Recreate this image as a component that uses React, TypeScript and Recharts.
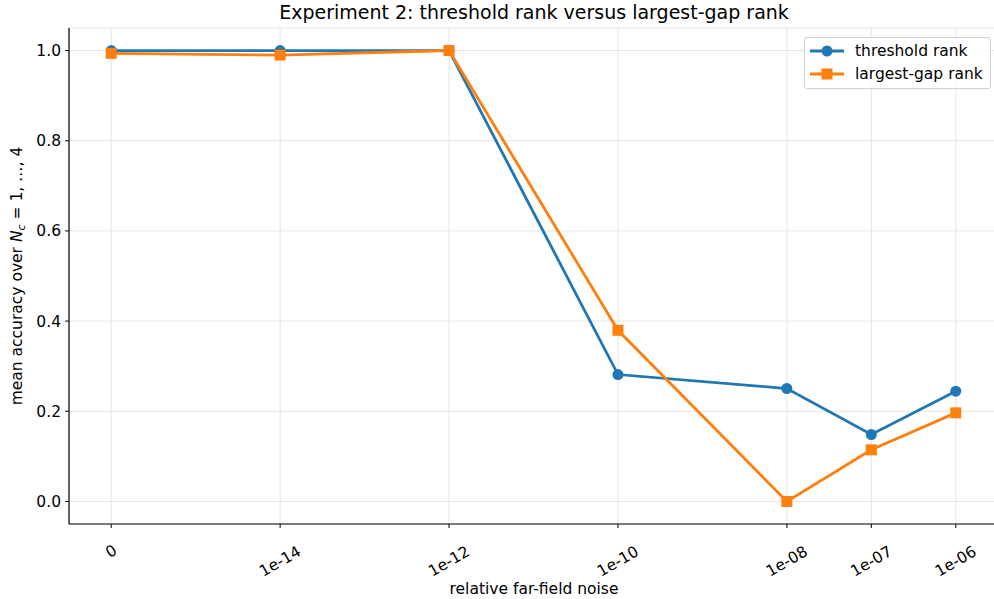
import {
  CartesianGrid,
  Line,
  LineChart,
  XAxis,
  YAxis,
} from "recharts";

// values
const noiseLevels = [0, 1e-14, 1e-12, 1e-10, 1e-8, 1e-7, 1e-6];
const noiseLabels = ["0", "1e-14", "1e-12", "1e-10", "1e-08", "1e-07", "1e-06"];
const thresholdRank = [1.0, 1.0, 1.0, 0.2815, 0.2505, 0.1485, 0.2445];
const largestGapRank = [0.99375, 0.99, 1.0, 0.3795, 0.0, 0.1145, 0.1965];
const yTicks = [0, 0.2, 0.4, 0.6, 0.8, 1.0];

const BLUE = "#1f77b4";
const ORANGE = "#ff7f0e";
const GRID = "#e5e5e5";
const FONT = "'DejaVu Sans', sans-serif";
const FS = 15.5;

// zero noise is drawn two decades left of the smallest non-zero level
function noisePosition(v: number) {
  return v === 0 ? Math.log10(noiseLevels[1]) - 2 : Math.log10(v);
}

const xPositions = noiseLevels.map(noisePosition);

const data = noiseLevels.map((v, i) => ({
  x: noisePosition(v),
  threshold: thresholdRank[i],
  largestGap: largestGapRank[i],
}));

function labelFor(pos: number) {
  const i = xPositions.findIndex((p) => Math.abs(p - pos) < 1e-9);
  return i >= 0 ? noiseLabels[i] : "";
}

function XTick(props: any) {
  const { x, y, payload } = props;
  const text = labelFor(payload.value);
  const dy = 19 + text.length * 2.5;
  return (
    <g transform={`translate(${x},${y + dy})`}>
      <text
        transform="rotate(-30)"
        textAnchor="middle"
        dominantBaseline="central"
        fontSize={FS}
        fontFamily={FONT}
        fill="#000"
      >
        {text}
      </text>
    </g>
  );
}

function Square(props: any) {
  const { cx, cy } = props;
  if (cx == null || cy == null) return null;
  return <rect x={cx - 5.5} y={cy - 5.5} width={11} height={11} fill={ORANGE} />;
}

function Dot(props: any) {
  const { cx, cy } = props;
  if (cx == null || cy == null) return null;
  return <circle cx={cx} cy={cy} r={5.5} fill={BLUE} />;
}

const legendItems = [
  { name: "threshold rank", color: BLUE, marker: "circle" },
  { name: "largest-gap rank", color: ORANGE, marker: "square" },
];

function LegendBox() {
  return (
    <div
      style={{
        position: "absolute",
        left: 804,
        top: 37,
        width: 185,
        height: 50,
        border: "1px solid #d0d0d0",
        borderRadius: 3,
        background: "rgba(255,255,255,0.8)",
        fontFamily: FONT,
        fontSize: FS,
      }}
    >
      {legendItems.map((it, i) => (
        <div
          key={it.name}
          style={{
            position: "absolute",
            left: 4,
            top: 4 + i * 23,
            height: 18,
            display: "flex",
            alignItems: "center",
          }}
        >
          <svg width={36} height={18}>
            <line x1={1} y1={9} x2={35} y2={9} stroke={it.color} strokeWidth={2.8} />
            {it.marker === "circle" ? (
              <circle cx={18} cy={9} r={5.5} fill={it.color} />
            ) : (
              <rect x={12.5} y={3.5} width={11} height={11} fill={it.color} />
            )}
          </svg>
          <span style={{ marginLeft: 10, whiteSpace: "nowrap" }}>{it.name}</span>
        </div>
      ))}
    </div>
  );
}

export default function App() {
  return (
    <div
      style={{
        position: "absolute",
        left: 0,
        top: 0,
        width: 994,
        height: 599,
        overflow: "hidden",
        background: "#fff",
      }}
    >
      <LineChart
        width={1000}
        height={599}
        data={data}
        margin={{ top: 28, right: 2, bottom: 0, left: 0 }}
      >
        <CartesianGrid stroke={GRID} strokeWidth={1} />
        <XAxis
          dataKey="x"
          type="number"
          domain={[-16.5, -5.5]}
          ticks={xPositions}
          interval={0}
          tick={<XTick />}
          tickSize={4}
          stroke="#000"
          tickLine={{ stroke: "#000" }}
          axisLine={{ stroke: "#000", strokeWidth: 1.2 }}
          height={75}
          allowDataOverflow
        />
        <XAxis
          xAxisId="top"
          orientation="top"
          dataKey="x"
          type="number"
          domain={[-16.5, -5.5]}
          tick={false}
          tickLine={false}
          axisLine={{ stroke: "#000", strokeWidth: 1.2 }}
          height={0}
        />
        <YAxis
          type="number"
          domain={[-0.05, 1.05]}
          ticks={yTicks}
          interval={0}
          tickFormatter={(v: number) => v.toFixed(1)}
          tick={{ fontSize: FS, fill: "#000", fontFamily: FONT }}
          tickSize={4}
          tickMargin={4}
          tickLine={{ stroke: "#000" }}
          axisLine={{ stroke: "#000", strokeWidth: 1.2 }}
          width={69}
          allowDataOverflow
        />
        <Line
          dataKey="threshold"
          name="threshold rank"
          stroke={BLUE}
          strokeWidth={2.8}
          dot={<Dot />}
          activeDot={false}
          isAnimationActive={false}
        />
        <Line
          dataKey="largestGap"
          name="largest-gap rank"
          stroke={ORANGE}
          strokeWidth={2.8}
          dot={<Square />}
          activeDot={false}
          isAnimationActive={false}
        />
        <text
          x={534}
          y={19}
          textAnchor="middle"
          fontSize={19}
          fontFamily={FONT}
          fill="#000"
        >
          Experiment 2: threshold rank versus largest-gap rank
        </text>
        <text
          x={534}
          y={594}
          textAnchor="middle"
          fontSize={FS}
          fontFamily={FONT}
          fill="#000"
        >
          relative far-field noise
        </text>
        <text
          transform="translate(22,276) rotate(-90)"
          textAnchor="middle"
          fontSize={FS}
          fontFamily={FONT}
          fill="#000"
        >
          mean accuracy over <tspan fontStyle="italic">N</tspan>
          <tspan fontStyle="italic" fontSize={11} dy={3}>c</tspan>
          <tspan dy={-3}> = 1, …, 4</tspan>
        </text>
      </LineChart>
      <LegendBox />
    </div>
  );
}
